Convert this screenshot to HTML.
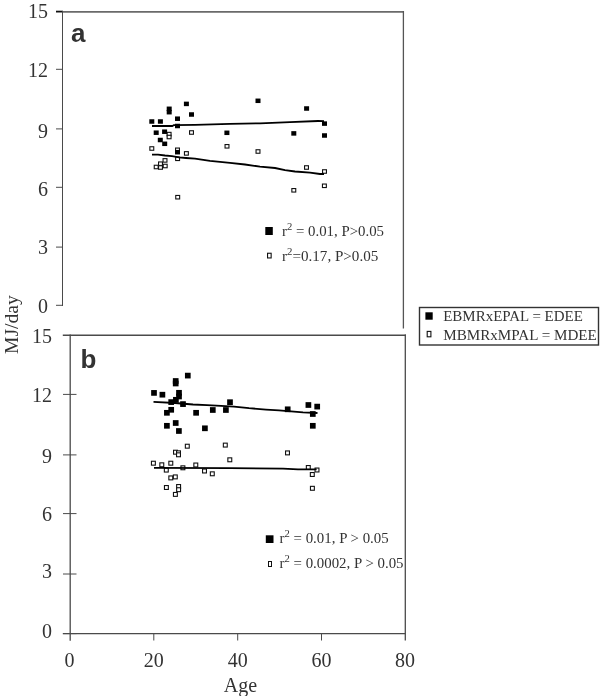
<!DOCTYPE html>
<html><head><meta charset="utf-8"><style>
html,body{margin:0;padding:0;background:#fff;width:600px;height:696px;overflow:hidden;}
svg{display:block;will-change:transform;}

</style></head><body>
<svg width="600" height="696" viewBox="0 0 600 696"><rect width="600" height="696" fill="#fff"/><g fill="none" stroke="#4a4a4a" stroke-width="1"><line x1="62" y1="11.8" x2="404" y2="11.8" stroke="#6a6a6a" stroke-width="1.8"/><line x1="56" y1="11.6" x2="63" y2="11.6" stroke="#111" stroke-width="1.8"/><line x1="62.5" y1="11" x2="62.5" y2="306"/><line x1="403.4" y1="11" x2="403.4" y2="328.6" stroke="#555" stroke-width="1.3"/><line x1="56" y1="69.3" x2="62.5" y2="69.3"/><line x1="56" y1="128.9" x2="62.5" y2="128.9"/><line x1="56" y1="187.3" x2="62.5" y2="187.3"/><line x1="56" y1="247.1" x2="62.5" y2="247.1"/><line x1="56" y1="305.3" x2="62.5" y2="305.3"/><line x1="62.8" y1="335.3" x2="406" y2="335.3" stroke-width="1.4"/><line x1="70.2" y1="334.6" x2="70.2" y2="640.8" stroke-width="1.3"/><line x1="405.3" y1="334.6" x2="405.3" y2="640.5" stroke-width="1.3"/><line x1="62.8" y1="633.6" x2="405.5" y2="633.6" stroke-width="1.2"/><line x1="63" y1="394.4" x2="76.5" y2="394.4"/><line x1="63" y1="454.9" x2="76.5" y2="454.9"/><line x1="63" y1="513.6" x2="76.5" y2="513.6"/><line x1="63" y1="574" x2="76.5" y2="574"/><line x1="63" y1="633.6" x2="76.5" y2="633.6"/><line x1="153.8" y1="633" x2="153.8" y2="640.5"/><line x1="237.7" y1="633" x2="237.7" y2="640.5"/><line x1="321.5" y1="633" x2="321.5" y2="640.5"/></g><g font-family="'Liberation Serif', serif" font-size="20" fill="#333" text-anchor="end"><text x="48" y="18.2">15</text><text x="48" y="76.6">12</text><text x="48" y="138.3">9</text><text x="48" y="196.0">6</text><text x="48" y="254.4">3</text><text x="48" y="312.6">0</text><text x="52" y="342.9">15</text><text x="52" y="401.7">12</text><text x="52" y="463.4">9</text><text x="52" y="520.9">6</text><text x="52" y="578.3">3</text><text x="52" y="638.3">0</text></g><g font-family="'Liberation Serif', serif" font-size="20" fill="#333" text-anchor="middle"><text x="69.5" y="667">0</text><text x="153.8" y="667">20</text><text x="237.7" y="667">40</text><text x="321.5" y="667">60</text><text x="405" y="667">80</text><text x="240.5" y="692.2">Age</text><text transform="translate(17.7,324.6) rotate(-90)" font-size="19.6">MJ/day</text></g><g font-family="'Liberation Sans', sans-serif" font-weight="bold" font-size="26" fill="#333"><text x="71" y="41.8">a</text><text x="80.5" y="368">b</text></g><g fill="#fff" stroke="#111" stroke-width="1.1"><rect x="167.15" y="132.35" width="3.90" height="3.50"/><rect x="167.15" y="135.25" width="3.90" height="3.50"/><rect x="149.85" y="146.75" width="3.90" height="3.50"/><rect x="175.55" y="148.05" width="3.90" height="3.50"/><rect x="189.55" y="130.75" width="3.90" height="3.50"/><rect x="184.45" y="151.65" width="3.90" height="3.50"/><rect x="175.65" y="157.05" width="3.90" height="3.50"/><rect x="163.05" y="158.65" width="3.90" height="3.50"/><rect x="158.55" y="161.95" width="3.90" height="3.50"/><rect x="154.25" y="165.25" width="3.90" height="3.50"/><rect x="158.55" y="165.75" width="3.90" height="3.50"/><rect x="163.25" y="164.25" width="3.90" height="3.50"/><rect x="175.75" y="195.45" width="3.90" height="3.50"/><rect x="225.05" y="144.55" width="3.90" height="3.50"/><rect x="256.05" y="149.75" width="3.90" height="3.50"/><rect x="304.55" y="165.75" width="3.90" height="3.50"/><rect x="322.55" y="169.75" width="3.90" height="3.50"/><rect x="322.45" y="184.05" width="3.90" height="3.50"/><rect x="291.85" y="188.55" width="3.90" height="3.50"/></g><g fill="#000" stroke="none"><rect x="149.30" y="119.25" width="5" height="4.5"/><rect x="157.90" y="119.25" width="5" height="4.5"/><rect x="166.70" y="106.55" width="5" height="4.5"/><rect x="166.70" y="109.95" width="5" height="4.5"/><rect x="183.90" y="101.65" width="5" height="4.5"/><rect x="189.00" y="112.25" width="5" height="4.5"/><rect x="175.00" y="116.45" width="5" height="4.5"/><rect x="175.00" y="123.75" width="5" height="4.5"/><rect x="153.70" y="130.45" width="5" height="4.5"/><rect x="162.10" y="129.45" width="5" height="4.5"/><rect x="157.80" y="137.75" width="5" height="4.5"/><rect x="162.20" y="141.55" width="5" height="4.5"/><rect x="175.00" y="149.95" width="5" height="4.5"/><rect x="224.40" y="130.55" width="5" height="4.5"/><rect x="255.50" y="98.55" width="5" height="4.5"/><rect x="304.10" y="106.25" width="5" height="4.5"/><rect x="291.30" y="131.15" width="5" height="4.5"/><rect x="322.00" y="121.35" width="5" height="4.5"/><rect x="322.00" y="133.25" width="5" height="4.5"/><rect x="151.15" y="390.05" width="5.7" height="5.7"/><rect x="159.55" y="391.85" width="5.7" height="5.7"/><rect x="172.85" y="378.15" width="5.7" height="5.7"/><rect x="172.85" y="380.65" width="5.7" height="5.7"/><rect x="184.95" y="372.75" width="5.7" height="5.7"/><rect x="176.15" y="389.95" width="5.7" height="5.7"/><rect x="176.15" y="393.65" width="5.7" height="5.7"/><rect x="173.05" y="396.95" width="5.7" height="5.7"/><rect x="168.35" y="399.25" width="5.7" height="5.7"/><rect x="180.15" y="401.25" width="5.7" height="5.7"/><rect x="168.35" y="406.95" width="5.7" height="5.7"/><rect x="164.05" y="409.95" width="5.7" height="5.7"/><rect x="193.25" y="409.95" width="5.7" height="5.7"/><rect x="172.85" y="420.15" width="5.7" height="5.7"/><rect x="164.05" y="422.95" width="5.7" height="5.7"/><rect x="176.05" y="428.15" width="5.7" height="5.7"/><rect x="209.95" y="407.15" width="5.7" height="5.7"/><rect x="223.05" y="407.15" width="5.7" height="5.7"/><rect x="227.15" y="399.35" width="5.7" height="5.7"/><rect x="202.05" y="425.45" width="5.7" height="5.7"/><rect x="284.85" y="406.45" width="5.7" height="5.7"/><rect x="305.55" y="402.15" width="5.7" height="5.7"/><rect x="314.35" y="403.75" width="5.7" height="5.7"/><rect x="309.95" y="411.15" width="5.7" height="5.7"/><rect x="309.95" y="422.95" width="5.7" height="5.7"/></g><g fill="#fff" stroke="#111" stroke-width="1.1"><rect x="151.45" y="461.25" width="3.90" height="3.90"/><rect x="159.85" y="462.85" width="3.90" height="3.90"/><rect x="168.85" y="461.25" width="3.90" height="3.90"/><rect x="164.35" y="468.15" width="3.90" height="3.90"/><rect x="180.95" y="465.85" width="3.90" height="3.90"/><rect x="193.85" y="463.05" width="3.90" height="3.90"/><rect x="185.35" y="444.25" width="3.90" height="3.90"/><rect x="173.55" y="450.25" width="3.90" height="3.90"/><rect x="176.55" y="450.85" width="3.90" height="3.90"/><rect x="176.55" y="452.85" width="3.90" height="3.90"/><rect x="168.85" y="475.95" width="3.90" height="3.90"/><rect x="173.35" y="474.95" width="3.90" height="3.90"/><rect x="164.45" y="485.55" width="3.90" height="3.90"/><rect x="176.65" y="484.55" width="3.90" height="3.90"/><rect x="176.65" y="487.75" width="3.90" height="3.90"/><rect x="173.45" y="492.45" width="3.90" height="3.90"/><rect x="223.35" y="443.15" width="3.90" height="3.90"/><rect x="227.85" y="457.85" width="3.90" height="3.90"/><rect x="202.55" y="469.05" width="3.90" height="3.90"/><rect x="210.35" y="471.85" width="3.90" height="3.90"/><rect x="285.55" y="450.95" width="3.90" height="3.90"/><rect x="306.35" y="465.55" width="3.90" height="3.90"/><rect x="315.05" y="468.05" width="3.90" height="3.90"/><rect x="310.35" y="472.55" width="3.90" height="3.90"/><rect x="310.45" y="486.35" width="3.90" height="3.90"/></g><g stroke="#000" stroke-width="1.8" fill="none" stroke-linejoin="round"><polyline points="152,126 172.5,126 174,125.1 195,124.8 230,123.8 260,123.3 290,122.1 318,121 324,121.2"/><polyline points="152,154.6 158,154.6 165,155.5 172,156.2 179,157.3 186,158 195,158.7 210,160.8 230,162.8 245,164.5 260,166.6 275,168 285,170.1 295,171.5 310,172.7 320,174 324,174"/><polyline points="153.5,401.9 175,403 193,404.5 207,405.1 221,405.9 234,406.6 249,408.2 266,409.6 279,410.4 303,412.3 317.5,413"/><polyline points="154,467.8 230,468.1 283,468.7 298,469.3 316.6,469.4"/></g><g font-family="'Liberation Serif', serif" font-size="14" fill="#333"><rect x="265.3" y="227" width="7.5" height="8" fill="#000"/><rect x="267.55" y="253.25" width="3.6" height="4.7" fill="#fff" stroke="#111" stroke-width="1.1"/><text x="282" y="236" textLength="102" lengthAdjust="spacingAndGlyphs">r<tspan font-size="10" dy="-6">2</tspan><tspan dy="6"> = 0.01, P&gt;0.05</tspan></text><text x="282" y="260.5" textLength="96.3" lengthAdjust="spacingAndGlyphs">r<tspan font-size="10" dy="-6">2</tspan><tspan dy="6">=0.17, P&gt;0.05</tspan></text><rect x="265.8" y="535.3" width="7.7" height="7.7" fill="#000"/><rect x="268.5" y="561.5" width="3" height="5" fill="#fff" stroke="#111" stroke-width="1"/><text x="279.6" y="542.6" textLength="109.1" lengthAdjust="spacingAndGlyphs">r<tspan font-size="10" dy="-6">2</tspan><tspan dy="6"> = 0.01, P &gt; 0.05</tspan></text><text x="279.6" y="567.6" textLength="123.9" lengthAdjust="spacingAndGlyphs">r<tspan font-size="10" dy="-6">2</tspan><tspan dy="6"> = 0.0002, P &gt; 0.05</tspan></text></g><rect x="419.5" y="307.5" width="179" height="37.5" fill="#fff" stroke="#333" stroke-width="1.4"/><rect x="425.4" y="312.3" width="7.3" height="7.4" fill="#000"/><rect x="427.2" y="331.4" width="3.7" height="5.4" fill="#fff" stroke="#111" stroke-width="1.1"/><g font-family="'Liberation Serif', serif" font-size="14.5" fill="#333"><text x="443.2" y="320.5" textLength="139.7" lengthAdjust="spacingAndGlyphs">EBMRxEPAL = EDEE</text><text x="443.2" y="340.2" textLength="153.6" lengthAdjust="spacingAndGlyphs">MBMRxMPAL = MDEE</text></g></svg>
</body></html>
